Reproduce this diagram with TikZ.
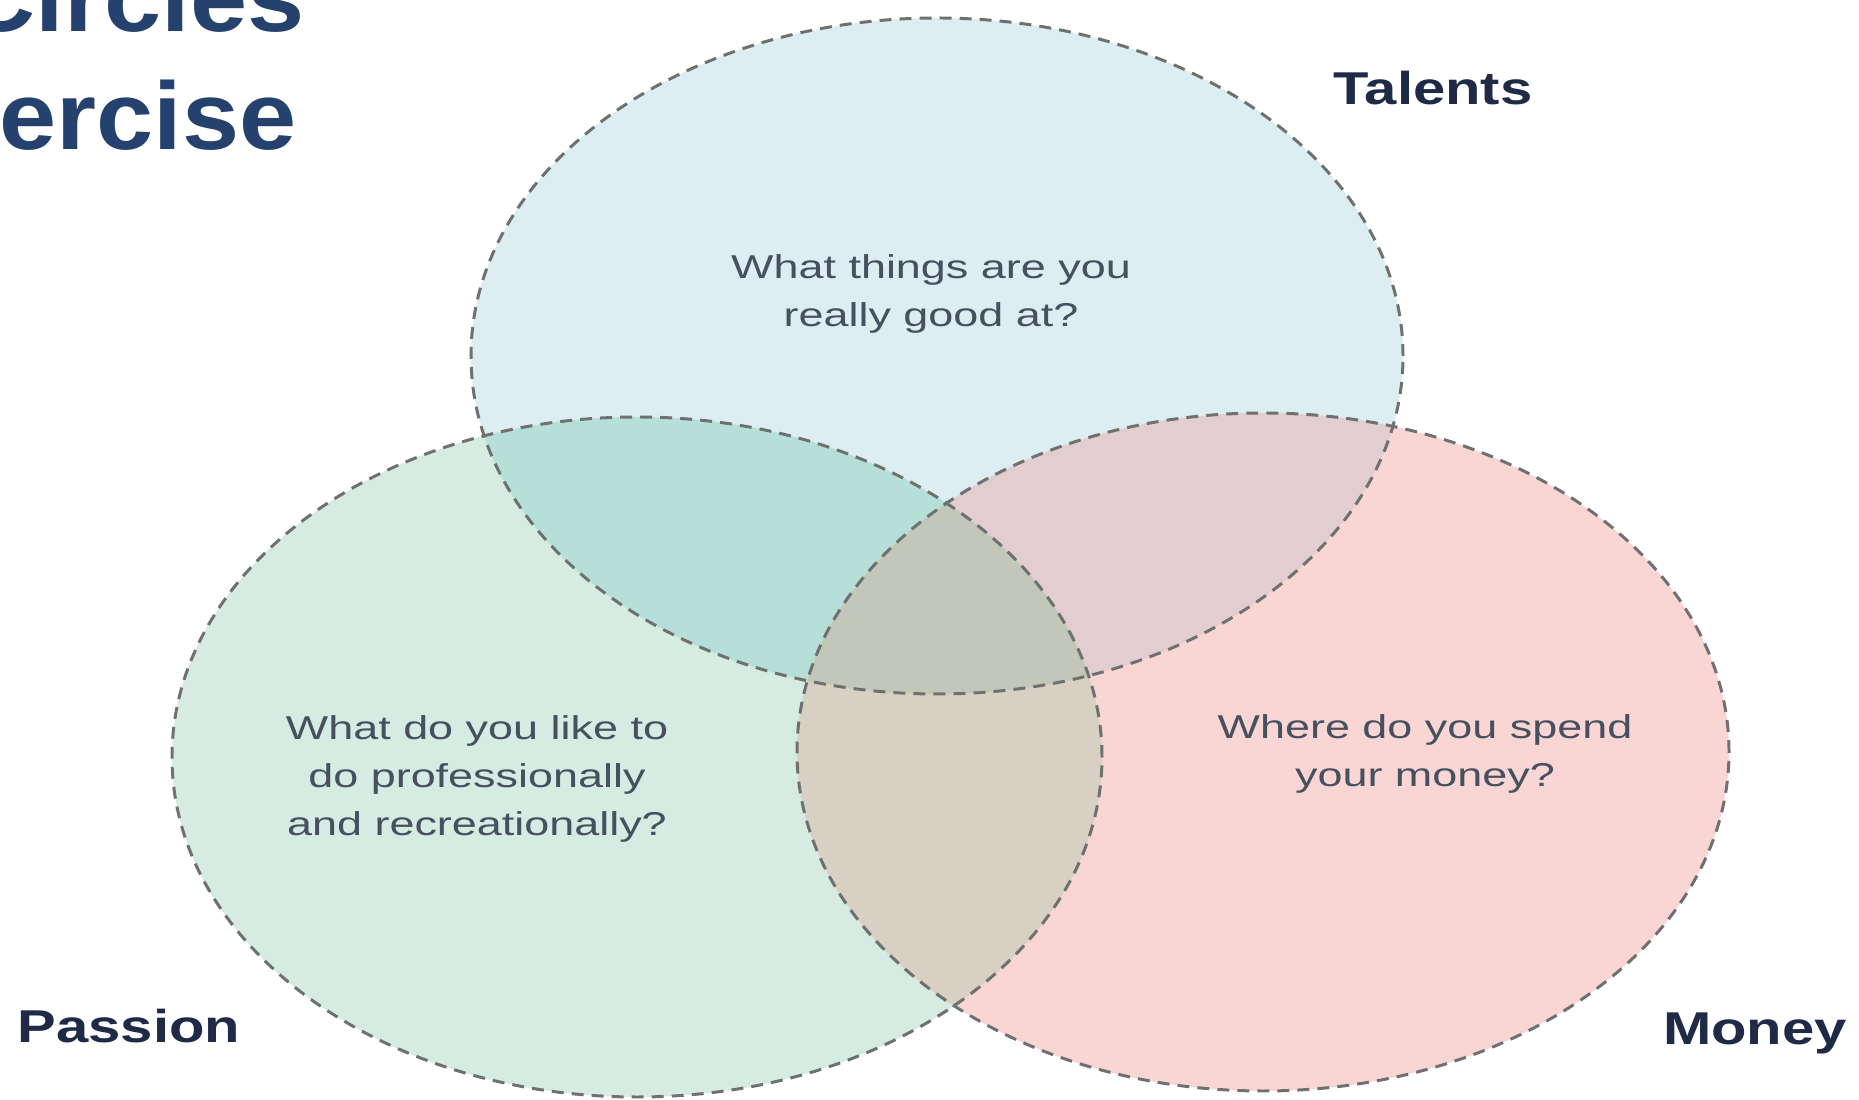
\documentclass[tikz,border=0pt]{standalone}
\usepackage{fontspec}
\setmainfont{Liberation Sans}

\definecolor{talentblue}{HTML}{DCEEF1}
\definecolor{passiongreen}{HTML}{D6EBE1}
\definecolor{moneypink}{HTML}{F9D6D4}
\definecolor{tealmix}{HTML}{B6E0D7}
\definecolor{mauvemix}{HTML}{E2CDD0}
\definecolor{beigemix}{HTML}{D7D0C3}
\definecolor{coremix}{HTML}{C2C7BA}
\definecolor{rimgray}{HTML}{6E7170}
\definecolor{asktext}{HTML}{46505F}
\definecolor{tagnavy}{HTML}{1F2A46}
\definecolor{headnavy}{HTML}{25416D}

\begin{document}
\begin{tikzpicture}[
  rim/.style={draw=rimgray, line width=0.85pt, dash pattern=on 3.4pt off 2.3pt},
  question/.style={text=asktext, align=center, xscale=1.36, font=\fontsize{9.4}{13.7}\selectfont},
  tag/.style={text=tagnavy, anchor=base, inner sep=0pt, xscale=1.26, font=\fontsize{13.1}{15}\selectfont\bfseries},
  heading/.style={text=headnavy, anchor=base east, inner sep=0pt, xscale=1.07, font=\fontsize{27.3}{30}\selectfont\bfseries}
]
\useasboundingbox (0,0) rectangle (18.59,11);

% the three circles
\fill [talentblue] (9.37,7.44) ellipse (4.66cm and 3.38cm);
\fill [passiongreen] (6.37,3.43) ellipse (4.65cm and 3.40cm);
\fill [moneypink] (12.63,3.48) ellipse (4.66cm and 3.39cm);

% overlaps
\begin{scope}
\clip (9.37,7.44) ellipse (4.66cm and 3.38cm);
\fill [tealmix] (6.37,3.43) ellipse (4.65cm and 3.40cm);
\fill [mauvemix] (12.63,3.48) ellipse (4.66cm and 3.39cm);
\end{scope}
\begin{scope}
\clip (6.37,3.43) ellipse (4.65cm and 3.40cm);
\fill [beigemix] (12.63,3.48) ellipse (4.66cm and 3.39cm);
\end{scope}
\begin{scope}
\clip (9.37,7.44) ellipse (4.66cm and 3.38cm);
\clip (6.37,3.43) ellipse (4.65cm and 3.40cm);
\fill [coremix] (12.63,3.48) ellipse (4.66cm and 3.39cm);
\end{scope}

\draw [rim] (9.37,7.44) ellipse (4.66cm and 3.38cm);
\draw [rim] (6.37,3.43) ellipse (4.65cm and 3.40cm);
\draw [rim] (12.63,3.48) ellipse (4.66cm and 3.39cm);

% questions
\node [question] (askTalents) at (9.31,8.06) {What things are you\\really good at?};
\node [question] (askPassion) at (4.77,3.21) {What do you like to\\do professionally\\and recreationally?};
\node [question] (askMoney) at (14.25,3.46) {Where do you spend\\your money?};

% circle names
\node [tag] (talents) at (14.33,9.95) {Talents};
\node [tag] (passion) at (1.29,0.57) {Passion};
\node [tag] (money) at (17.55,0.55) {Money};

% title, cut by the page edge
\node [heading] (titleA) at (3.05,10.68) {Circles};
\node [heading] (titleB) at (2.97,9.50) {Exercise};
\end{tikzpicture}
\end{document}
